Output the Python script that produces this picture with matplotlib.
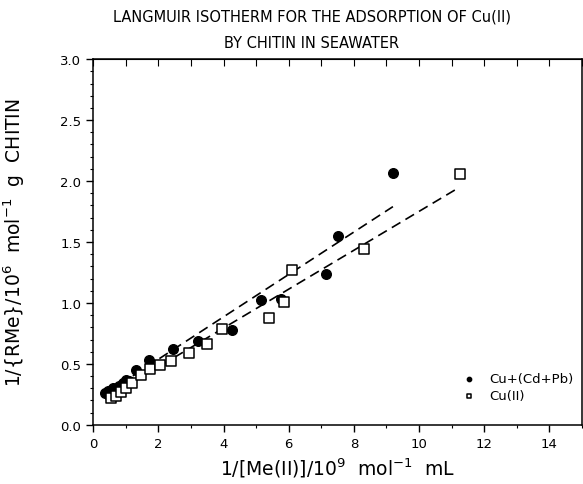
import numpy as np
import matplotlib
matplotlib.use("Agg")
import matplotlib.pyplot as plt
from matplotlib.ticker import MultipleLocator

# Cu+(Cd+Pb) -- filled circles
mix_x = [0.35, 0.45, 0.5, 0.55, 0.6, 0.65, 0.7, 0.8, 0.85, 0.9, 1.0, 1.1, 1.3,
         1.7, 2.45, 3.2, 4.25, 5.15, 5.75, 7.15, 7.5, 9.2]
mix_y = [0.26, 0.28, 0.23, 0.25, 0.30, 0.27, 0.28, 0.32, 0.30, 0.34, 0.37, 0.36,
         0.45, 0.53, 0.62, 0.69, 0.78, 1.02, 1.03, 1.24, 1.55, 2.07]

# Cu(II) -- open squares
cu_x = [0.55, 0.7, 0.85, 1.0, 1.2, 1.45, 1.75, 2.05, 2.4, 2.95, 3.5, 3.95,
        5.4, 5.85, 6.1, 8.3, 11.25]
cu_y = [0.22, 0.24, 0.27, 0.30, 0.34, 0.41, 0.46, 0.49, 0.52, 0.59, 0.66, 0.79,
        0.88, 1.01, 1.27, 1.44, 2.06]

# dashed fit lines (end points)
mix_fit_x = [0.4, 9.2]
mix_fit_y = [0.26, 1.79]
cu_fit_x = [0.4, 11.25]
cu_fit_y = [0.22, 1.95]

fig = plt.figure(figsize=(5.83, 4.85), dpi=100)
ax = fig.add_axes([0.16, 0.122, 0.838, 0.754])

ax.plot(mix_fit_x, mix_fit_y, color='black', lw=1.2, dashes=(6, 3.5))
ax.plot(cu_fit_x, cu_fit_y, color='black', lw=1.2, dashes=(6, 3.5))
ax.scatter(mix_x, mix_y, s=48, marker='o', color='black', zorder=3,
           label='Cu+(Cd+Pb)')
ax.scatter(cu_x, cu_y, s=45, marker='s', facecolor='white', edgecolor='black',
           linewidth=1.1, zorder=3, label='Cu(II)')

ax.set_xlim(0, 15)
ax.set_ylim(0, 3.0)
ax.xaxis.set_major_locator(MultipleLocator(2))
ax.xaxis.set_minor_locator(MultipleLocator(1))
ax.yaxis.set_major_locator(MultipleLocator(0.5))
ax.yaxis.set_minor_locator(MultipleLocator(0.1))
ax.yaxis.set_major_formatter(matplotlib.ticker.FormatStrFormatter('%.1f'))
ax.tick_params(which='major', direction='out', length=5, width=1, labelsize=9.5)
ax.tick_params(which='minor', direction='out', length=2.5, width=0.8)

top = ax.secondary_xaxis('top')
top.xaxis.set_major_locator(MultipleLocator(1))
top.tick_params(direction='in', length=5, labeltop=False)

for s in ax.spines.values():
    s.set_linewidth(1.1)

ax.set_xlabel(r'1/[Me(II)]/10$^9$  mol$^{-1}$  mL', fontsize=13.5)
ax.set_ylabel(r'1/{RMe}/10$^6$  mol$^{-1}$  g  CHITIN', fontsize=13.5)
ax.yaxis.set_label_coords(-0.135, 0.5)

fig.text(0.535, 0.965, 'LANGMUIR ISOTHERM FOR THE ADSORPTION OF Cu(II)',
         ha='center', va='center', fontsize=10.5)
fig.text(0.535, 0.91, 'BY CHITIN IN SEAWATER', ha='center', va='center',
         fontsize=10.5)

leg = ax.legend(loc='lower right', bbox_to_anchor=(1.0, 0.04), frameon=False,
                fontsize=9.5, markerscale=0.45, handletextpad=0.6,
                labelspacing=0.3, borderaxespad=0.2)

fig.savefig('out.png', dpi=100)
